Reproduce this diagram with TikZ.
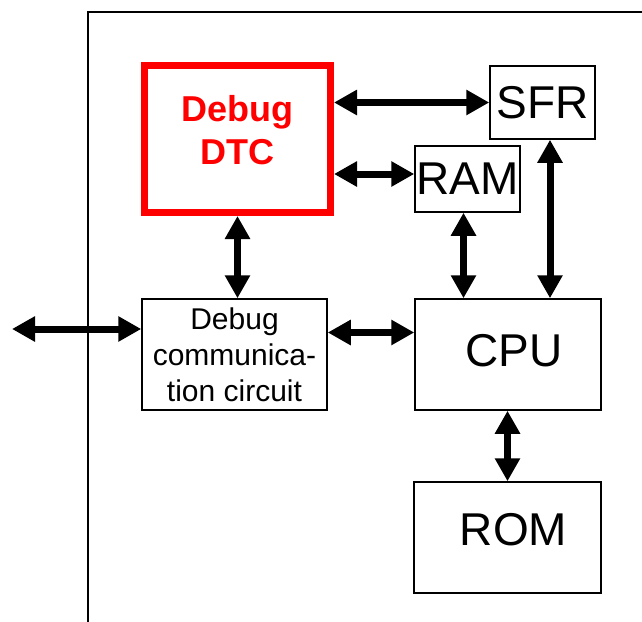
\documentclass[tikz,border=0pt]{standalone}
\usepackage{fontspec}
\setmainfont{Liberation Sans}
\usetikzlibrary{arrows.meta,positioning}

\tikzset{
  blk/.style={draw,line width=1.5pt,inner sep=0pt},
  bigtxt/.style={font=\fontsize{46}{50}\selectfont},
  bus/.style={line width=7pt,{Triangle[length=23pt,width=24pt]}-{Triangle[length=23pt,width=24pt]}},
}

\begin{document}
\begin{tikzpicture}[x=1pt,y=-1pt]
\useasboundingbox (0,0) rectangle (642,621);
% chip outline
\draw[line width=1.5pt] (88,630) -- (88,12) -- (650,12);
% blocks
\node[draw=red,line width=7pt,inner sep=0pt,minimum width=186pt,minimum height=147pt,text depth=18pt,
  text=red,align=center,font=\fontsize{36}{43}\selectfont\bfseries] (dtc) at (237.5,139) {Debug\\DTC};
\node[blk,bigtxt,minimum width=105pt,minimum height=73pt] (sfr) at (542.5,102.5) {SFR};
\node[blk,bigtxt,minimum width=105pt,minimum height=66pt] (ram) at (467.5,179) {RAM};
\node[blk,align=center,font=\fontsize{30}{36}\selectfont,minimum width=185pt,minimum height=111pt] (comm) at (234.5,354.5) {Debug\\communica-\\tion circuit};
\node[blk,bigtxt,minimum width=186pt,minimum height=111pt,text depth=8pt] (cpu) at (508,354.5) {\hspace*{12pt}CPU};
\node[blk,bigtxt,minimum width=187pt,minimum height=111pt,text depth=16pt] (rom) at (507.5,537.5) {\hspace*{12pt}ROM};
\coordinate (ext) at (12,329);
% buses
\draw[bus] (dtc.east |- sfr.west) -- (sfr.west);
\draw[bus] ([yshift=5pt]dtc.east |- ram.west) -- ([yshift=5pt]ram.west);
\draw[bus] (dtc.south) -- (dtc.south |- comm.north);
\draw[bus] ([xshift=-4pt]ram.south) -- ([xshift=-4pt]ram.south |- cpu.north);
\draw[bus] ([xshift=7.5pt]sfr.south) -- ([xshift=7.5pt]sfr.south |- cpu.north);
\draw[bus] (cpu.south -| rom.north) -- (rom.north);
\draw[bus] ([yshift=22pt]comm.east) -- ([yshift=22pt]comm.east -| cpu.west);
\draw[bus] (ext) -- (ext -| comm.west);
\end{tikzpicture}
\end{document}
